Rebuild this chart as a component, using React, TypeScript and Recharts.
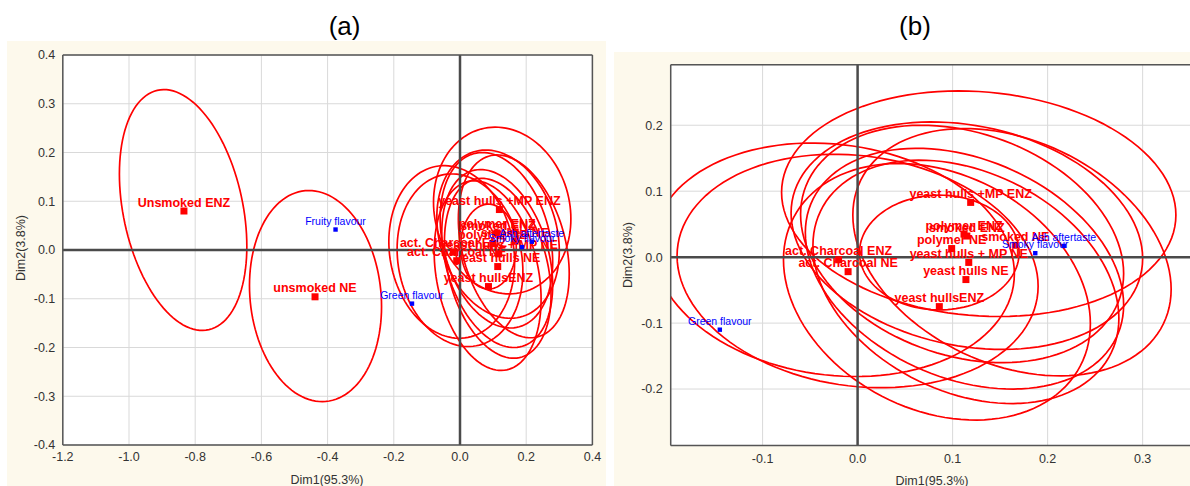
import React from "react";
import {
  ScatterChart,
  Scatter,
  XAxis,
  YAxis,
  CartesianGrid,
  ReferenceLine,
  ReferenceArea,
} from "recharts";

// samples (red) - coordinates on Dim1 / Dim2
const sampleNames = [
  "Unsmoked ENZ",
  "unsmoked NE",
  "yeast hulls +MP ENZ",
  "polymer ENZ",
  "smoked ENZ",
  "polymer NE",
  "smoked NE",
  "yeast hulls + MP NE",
  "yeast hulls NE",
  "yeast hullsENZ",
  "act. Charcoal ENZ",
  "act. Charcoal NE",
];
const sampleDim1 = [-0.834, -0.438, 0.119, 0.112, 0.115, 0.099, 0.166, 0.117, 0.114, 0.086, -0.02, -0.01];
const sampleDim2 = [0.08, -0.096, 0.083, 0.035, 0.032, 0.013, 0.018, -0.008, -0.034, -0.075, -0.004, -0.022];

// sensory attributes (blue)
const attributeNames = ["Fruity flavour", "Green flavour", "Smoky flavour", "Ash aftertaste"];
const attributeDim1 = [-0.376, -0.145, 0.187, 0.217];
const attributeDim2 = [0.042, -0.11, 0.006, 0.017];

// confidence ellipses, one per sample: extent on each dim + lean of the top point (fraction of half width)
const ellipseDim1Min = [-1.029, -0.636, -0.08, -0.07, -0.06, 0.002, -0.005, -0.055, -0.047, -0.078, -0.215, -0.19];
const ellipseDim1Max = [-0.644, -0.237, 0.335, 0.3, 0.28, 0.17, 0.33, 0.28, 0.275, 0.245, 0.165, 0.19];
const ellipseDim2Min = [-0.165, -0.311, -0.09, -0.14, -0.16, -0.08, -0.18, -0.2, -0.222, -0.247, -0.181, -0.198];
const ellipseDim2Max = [0.329, 0.122, 0.252, 0.205, 0.2, 0.094, 0.195, 0.165, 0.147, 0.142, 0.173, 0.156];
const ellipseLean = [-0.3, -0.1, -0.1, -0.2, -0.25, 0, -0.3, -0.3, -0.3, -0.25, -0.12, -0.13];

// axis ticks
const aXTicks = [-1.2, -1.0, -0.8, -0.6, -0.4, -0.2, 0, 0.2, 0.4];
const aXMinor = [-1.2, -1.1, -1.0, -0.9, -0.8, -0.7, -0.6, -0.5, -0.4, -0.3, -0.2, -0.1, 0, 0.1, 0.2, 0.3, 0.4];
const aYTicks = [-0.4, -0.3, -0.2, -0.1, 0, 0.1, 0.2, 0.3, 0.4];
const aYMinor = [-0.4, -0.35, -0.3, -0.25, -0.2, -0.15, -0.1, -0.05, 0, 0.05, 0.1, 0.15, 0.2, 0.25, 0.3, 0.35, 0.4];
const bXTicks = [-0.1, 0, 0.1, 0.2, 0.3];
const bXMinor = [-0.15, -0.1, -0.05, 0, 0.05, 0.1, 0.15, 0.2, 0.25, 0.3, 0.35];
const bYTicks = [-0.2, -0.1, 0, 0.1, 0.2];
const bYMinor = [-0.25, -0.2, -0.15, -0.1, -0.05, 0, 0.05, 0.1, 0.15, 0.2, 0.25];

const FONT = "Arial, 'Liberation Sans', sans-serif";
const RED = "#ff0000";
const BLUE = "#0000ff";
const AXIS = "#555555";
const CREAM = "#fdf9ec";

const samples = sampleNames.map((name, i) => ({ name, dim1: sampleDim1[i], dim2: sampleDim2[i] }));
const attributes = attributeNames.map((name, i) => ({ name, dim1: attributeDim1[i], dim2: attributeDim2[i] }));
const ellipses = sampleNames.map((name, i) => ({
  name,
  x1: ellipseDim1Min[i],
  x2: ellipseDim1Max[i],
  y1: ellipseDim2Min[i],
  y2: ellipseDim2Max[i],
  lean: ellipseLean[i],
}));

const fmt = (v: number) => v.toFixed(1);

const SampleMark = (props: any) => {
  const { cx, cy, payload } = props;
  return (
    <g>
      <rect x={cx - 3.5} y={cy - 3.5} width={7} height={7} fill={RED} />
      <text x={cx} y={cy - 4.5} textAnchor="middle" fontSize={12.5} fontWeight="bold" fill={RED} fontFamily={FONT}>
        {payload.name}
      </text>
    </g>
  );
};

const AttributeMark = (props: any) => {
  const { cx, cy, payload } = props;
  return (
    <g>
      <rect x={cx - 2.2} y={cy - 2.2} width={4.4} height={4.4} fill={BLUE} />
      <text x={cx} y={cy - 4.8} textAnchor="middle" fontSize={10.5} fill={BLUE} fontFamily={FONT}>
        {payload.name}
      </text>
    </g>
  );
};

// draws the ellipse inscribed in the area box, top point shifted by lean * half width
const ellipseShape = (lean: number) => (props: any) => {
  const { x, y, width, height, clipPath } = props;
  const hw = width / 2;
  const hh = height / 2;
  const cx = x + hw;
  const cy = y + hh;
  const d = Math.acos(lean);
  let path = "";
  for (let i = 0; i <= 120; i++) {
    const t = (i / 120) * Math.PI * 2;
    const px = cx + hw * Math.cos(t);
    const py = cy - hh * Math.cos(t - d);
    path += (i === 0 ? "M" : "L") + px.toFixed(2) + "," + py.toFixed(2);
  }
  return <path d={path + "Z"} fill="none" stroke={RED} strokeWidth={1.7} clipPath={clipPath} />;
};

type PanelProps = {
  width: number;
  height: number;
  margin: { top: number; right: number; bottom: number; left: number };
  xDomain: [number, number];
  yDomain: [number, number];
  xTicks: number[];
  yTicks: number[];
  xMinor: number[];
  yMinor: number[];
  xTickMargin: number;
  yTickMargin: number;
};

const tickStyle = { fontSize: 12.5, fill: "#333", fontFamily: FONT };

const Panel: React.FC<PanelProps> = ({
  width,
  height,
  margin,
  xDomain,
  yDomain,
  xTicks,
  yTicks,
  xMinor,
  yMinor,
  xTickMargin,
  yTickMargin,
}) => (
  <ScatterChart width={width} height={height} margin={margin}>
    <CartesianGrid stroke="#d9d9d9" fill="#ffffff" />
    <XAxis
      type="number"
      dataKey="dim1"
      domain={xDomain}
      allowDataOverflow
      ticks={xTicks}
      interval={0}
      tickFormatter={fmt}
      tickLine={false}
      tickSize={0}
      tickMargin={xTickMargin}
      axisLine={{ stroke: AXIS, strokeWidth: 1.5 }}
      tick={tickStyle}
      height={30}
    />
    <YAxis
      type="number"
      dataKey="dim2"
      domain={yDomain}
      allowDataOverflow
      ticks={yTicks}
      interval={0}
      tickFormatter={fmt}
      tickLine={false}
      tickSize={0}
      tickMargin={yTickMargin}
      axisLine={{ stroke: AXIS, strokeWidth: 1.5 }}
      tick={tickStyle}
      width={50}
    />
    <XAxis
      xAxisId="bm"
      type="number"
      domain={xDomain}
      allowDataOverflow
      ticks={xMinor}
      interval={0}
      orientation="bottom"
      mirror
      tick={false}
      axisLine={false}
      tickLine={{ stroke: AXIS }}
      tickSize={4}
      height={6}
    />
    <XAxis
      xAxisId="top"
      type="number"
      domain={xDomain}
      allowDataOverflow
      ticks={xMinor}
      interval={0}
      orientation="top"
      mirror
      tick={false}
      axisLine={{ stroke: AXIS, strokeWidth: 1.5 }}
      tickLine={{ stroke: AXIS }}
      tickSize={4}
      height={6}
    />
    <YAxis
      yAxisId="lm"
      type="number"
      domain={yDomain}
      allowDataOverflow
      ticks={yMinor}
      interval={0}
      orientation="left"
      mirror
      tick={false}
      axisLine={false}
      tickLine={{ stroke: AXIS }}
      tickSize={4}
      width={6}
    />
    <YAxis
      yAxisId="right"
      type="number"
      domain={yDomain}
      allowDataOverflow
      ticks={yMinor}
      interval={0}
      orientation="right"
      mirror
      tick={false}
      axisLine={{ stroke: AXIS, strokeWidth: 1.5 }}
      tickLine={{ stroke: AXIS }}
      tickSize={4}
      width={6}
    />
    <ReferenceLine x={0} stroke="#4a4a4a" strokeWidth={2.5} />
    <ReferenceLine y={0} stroke="#4a4a4a" strokeWidth={2.5} />
    {ellipses.map((e) => (
      <ReferenceArea
        key={e.name}
        x1={e.x1}
        x2={e.x2}
        y1={e.y1}
        y2={e.y2}
        ifOverflow="hidden"
        shape={ellipseShape(e.lean)}
      />
    ))}
    <Scatter data={samples} shape={SampleMark} isAnimationActive={false} />
    <Scatter data={attributes} shape={AttributeMark} isAnimationActive={false} />
  </ScatterChart>
);

const App: React.FC = () => {
  return (
    <div
      style={{
        position: "absolute",
        left: 0,
        top: 0,
        width: 1190,
        height: 486,
        overflow: "hidden",
        background: "#ffffff",
        fontFamily: FONT,
      }}
    >
      <div style={{ position: "absolute", left: 7, top: 41, width: 599, height: 445, background: CREAM }} />
      <div style={{ position: "absolute", left: 614, top: 52, width: 576, height: 434, background: CREAM }} />
      <div style={{ position: "absolute", left: 0, top: 0 }}>
        <Panel
          width={606}
          height={486}
          margin={{ top: 55, right: 13.6, bottom: 11, left: 12.8 }}
          xDomain={[-1.2, 0.4]}
          yDomain={[-0.4, 0.4]}
          xTicks={aXTicks}
          yTicks={aYTicks}
          xMinor={aXMinor}
          yMinor={aYMinor}
          xTickMargin={6.7}
          yTickMargin={7.5}
        />
      </div>
      <div style={{ position: "absolute", left: 606, top: 0 }}>
        <Panel
          width={600}
          height={486}
          margin={{ top: 64.7, right: 13, bottom: 10.5, left: 14.7 }}
          xDomain={[-0.1967, 0.353]}
          yDomain={[-0.2856, 0.2918]}
          xTicks={bXTicks}
          yTicks={bYTicks}
          xMinor={bXMinor}
          yMinor={bYMinor}
          xTickMargin={8.3}
          yTickMargin={8}
        />
      </div>
      <svg
        width={1190}
        height={486}
        style={{ position: "absolute", left: 0, top: 0, pointerEvents: "none" }}
      >
        <g fontFamily={FONT}>
          <text x={344.6} y={34.5} textAnchor="middle" fontSize={26} fill="#000">(a)</text>
          <text x={915} y={34.5} textAnchor="middle" fontSize={26} fill="#000">(b)</text>
          <text x={327} y={484.4} textAnchor="middle" fontSize={12.5} fill="#333">Dim1(95.3%)</text>
          <text x={932} y={485} textAnchor="middle" fontSize={12.5} fill="#333">Dim1(95.3%)</text>
          <text x={25.4} y={248} textAnchor="middle" fontSize={12.5} fill="#333" transform="rotate(-90 25.4 248)">
            Dim2(3.8%)
          </text>
          <text x={632.1} y={255} textAnchor="middle" fontSize={12.5} fill="#333" transform="rotate(-90 632.1 255)">
            Dim2(3.8%)
          </text>
        </g>
      </svg>
    </div>
  );
};

export default App;
